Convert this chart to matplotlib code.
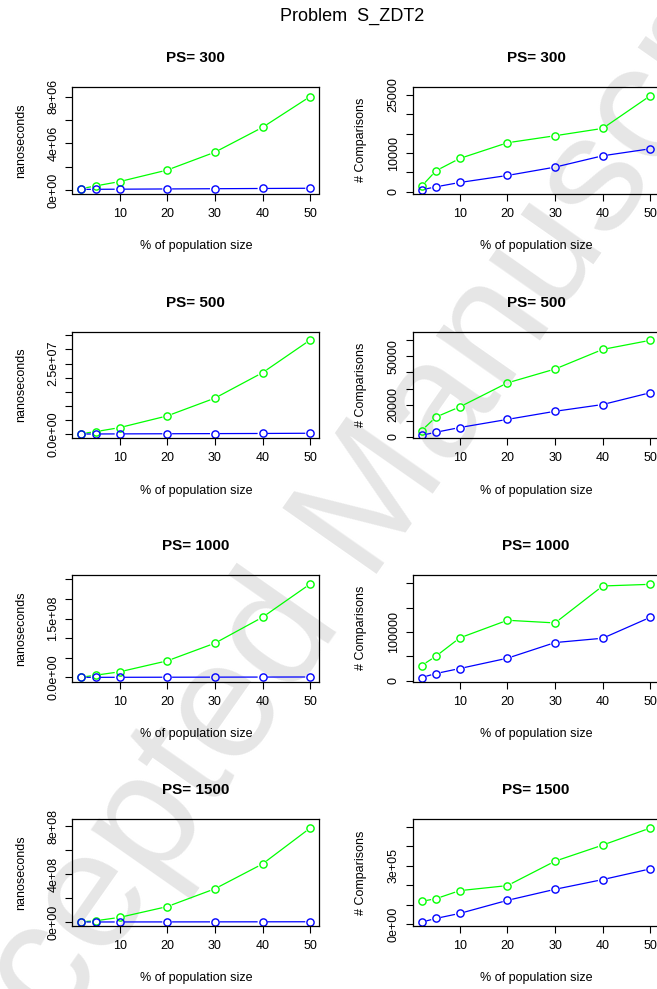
import numpy as np
import matplotlib
matplotlib.use("Agg")
import matplotlib.pyplot as plt

plt.rcParams['font.family'] = ['Liberation Sans', 'DejaVu Sans']

# x axis: percentage of the population size
pct = [2, 5, 10, 20, 30, 40, 50]

# run time in nanoseconds (green = first method, blue = second method)
ns_300_green = [0.11e6, 0.34e6, 0.71e6, 1.70e6, 3.23e6, 5.36e6, 8.00e6]
ns_300_blue = [0.04e6, 0.05e6, 0.06e6, 0.08e6, 0.10e6, 0.12e6, 0.14e6]
ns_500_green = [0.24e6, 0.95e6, 2.36e6, 6.5e6, 12.77e6, 21.75e6, 33.3e6]
ns_500_blue = [0.10e6, 0.12e6, 0.15e6, 0.20e6, 0.25e6, 0.30e6, 0.38e6]
ns_1000_green = [0.085e7, 0.59e7, 1.44e7, 4.24e7, 8.73e7, 15.34e7, 23.81e7]
ns_1000_blue = [0.3e6, 0.4e6, 0.5e6, 0.7e6, 0.9e6, 1.1e6, 1.3e6]
ns_1500_green = [0.028e8, 0.11e8, 0.39e8, 1.29e8, 2.77e8, 4.84e8, 7.83e8]
ns_1500_blue = [0.6e6, 0.8e6, 1.0e6, 1.4e6, 1.8e6, 2.2e6, 2.7e6]

# number of comparisons
cmp_300_green = [1466, 5431, 8621, 12672, 14483, 16379, 24828]
cmp_300_blue = [517, 1293, 2414, 4224, 6379, 9310, 11121]
cmp_500_green = [3983, 12369, 18658, 33543, 42138, 54298, 59958]
cmp_500_blue = [1048, 2935, 5870, 10901, 15933, 20126, 27463]
cmp_1000_green = [30822, 50000, 87671, 123973, 118493, 194520, 197945]
cmp_1000_blue = [6164, 14384, 24658, 45890, 78082, 86986, 130137]
cmp_1500_green = [117241, 131034, 172414, 198276, 324138, 406897, 494828]
cmp_1500_blue = [10345, 29310, 55172, 122414, 179310, 229310, 284483]

pop_sizes = [300, 500, 1000, 1500]

ns_series = [(ns_300_green, ns_300_blue), (ns_500_green, ns_500_blue),
             (ns_1000_green, ns_1000_blue), (ns_1500_green, ns_1500_blue)]
cmp_series = [(cmp_300_green, cmp_300_blue), (cmp_500_green, cmp_500_blue),
              (cmp_1000_green, cmp_1000_blue), (cmp_1500_green, cmp_1500_blue)]

# y axis settings (limits, tick step, labelled ticks) like R's output
ns_ylims = [(-0.31e6, 8.82e6), (-1.3e6, 36.3e6), (-1.02e7, 26.1e7), (-0.31e8, 8.56e8)]
ns_steps = [2e6, 5e6, 5e7, 2e8]
ns_labels = [{0: '0e+00', 4e6: '4e+06', 8e6: '8e+06'},
             {0: '0.0e+00', 2.5e7: '2.5e+07'},
             {0: '0.0e+00', 1.5e8: '1.5e+08'},
             {0: '0e+00', 4e8: '4e+08', 8e8: '8e+08'}]
cmp_ylims = [(-431, 27069), (-629, 65409), (-2055, 217123), (-8621, 539655)]
cmp_steps = [5000, 10000, 50000, 100000]
cmp_labels = [{0: '0', 10000: '10000', 25000: '25000'},
              {0: '0', 20000: '20000', 50000: '50000'},
              {0: '0', 100000: '100000'},
              {0: '0e+00', 3e5: '3e+05'}]

W, H = 657, 989
fig = plt.figure(figsize=(W / 100, H / 100), dpi=100)

# watermark behind everything
fig.text(355 / W, 1 - 530 / H, 'Accepted Manuscript', rotation=55,
         ha='center', va='center', fontsize=120, color='#e6e6e6', zorder=-5)

fig.text(352 / W, 1 - 16 / H, 'Problem  S_ZDT2', ha='center', va='center', fontsize=13)

row_tops = [87, 331.5, 575, 819.3]
col_lefts = [72.3, 412.5]
box_w, box_h = 247, 106.5


def plot_type_b(ax, xs, ys, color, gap=5.5):
    # R type="b": points joined by lines that stop short of each point
    pts = ax.transData.transform(np.column_stack([xs, ys]))
    inv = ax.transData.inverted()
    for p0, p1 in zip(pts[:-1], pts[1:]):
        d = p1 - p0
        L = np.hypot(d[0], d[1])
        if L <= 2 * gap:
            continue
        u = d / L
        seg = inv.transform(np.array([p0 + u * gap, p1 - u * gap]))
        ax.plot(seg[:, 0], seg[:, 1], color=color, lw=0.9)
    ax.plot(xs, ys, 'o', color=color, ms=5.2, mew=1.0, mfc='none')


def draw_panel(ax, green, blue, ylim, step, labels, ylabel, ps):
    ax.set_facecolor('none')
    ax.set_xlim(0.08, 51.92)
    ax.set_ylim(*ylim)
    plot_type_b(ax, pct, green, '#00ff00')
    plot_type_b(ax, pct, blue, '#0000ff')
    ax.set_xticks([10, 20, 30, 40, 50])
    yt = np.arange(0, ylim[1], step)
    ax.set_yticks(yt)
    ax.set_yticklabels([labels.get(t, '') for t in yt])
    for lab in ax.get_yticklabels():
        lab.set_rotation(90)
        lab.set_va('center')
    ax.tick_params(direction='out', length=5.3, width=0.8, labelsize=9, pad=5)
    ax.tick_params(axis='y', pad=4)
    for s in ax.spines.values():
        s.set_linewidth(0.9)
    ax.set_xlabel('% of population size', fontsize=9)
    ax.xaxis.set_label_coords(0.5, -52.7 / box_h)
    ax.xaxis.label.set_va('center')
    ax.set_ylabel(ylabel, fontsize=9)
    ax.yaxis.set_label_coords(-51.6 / box_w, 0.5)
    ax.yaxis.label.set_va('center')
    ax.text(0.5, 1 + 29 / box_h, 'PS= {}'.format(ps), transform=ax.transAxes,
            ha='center', va='center', fontsize=11, fontweight='bold')


for i, ps in enumerate(pop_sizes):
    bottom = 1 - (row_tops[i] + box_h) / H
    ax_ns = fig.add_axes([col_lefts[0] / W, bottom, box_w / W, box_h / H])
    draw_panel(ax_ns, ns_series[i][0], ns_series[i][1], ns_ylims[i], ns_steps[i],
               ns_labels[i], 'nanoseconds', ps)
    ax_cmp = fig.add_axes([col_lefts[1] / W, bottom, box_w / W, box_h / H])
    draw_panel(ax_cmp, cmp_series[i][0], cmp_series[i][1], cmp_ylims[i], cmp_steps[i],
               cmp_labels[i], '# Comparisons', ps)

fig.savefig('out.png', dpi=100)
